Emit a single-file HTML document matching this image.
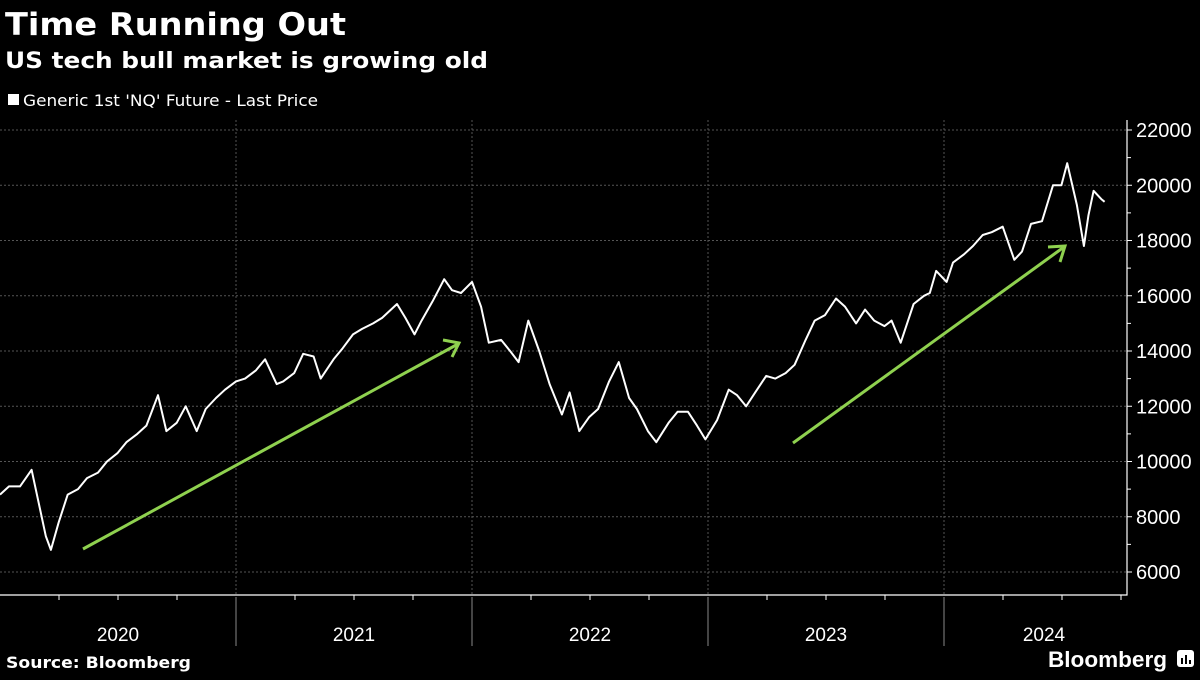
<!DOCTYPE html>
<html><head><meta charset="utf-8"><style>
body{margin:0;background:#000;width:1200px;height:675px;overflow:hidden;font-family:"Liberation Sans",sans-serif;color:#fff}
</style></head><body>
<svg width="1200" height="675" viewBox="0 0 1200 675" xmlns="http://www.w3.org/2000/svg">
<text x="5" y="35" font-size="31" font-weight="bold" fill="#fff" font-family="DejaVu Sans, sans-serif" textLength="341" lengthAdjust="spacingAndGlyphs">Time Running Out</text>
<text x="5" y="68" font-size="22" font-weight="bold" fill="#fff" font-family="DejaVu Sans, sans-serif" textLength="483" lengthAdjust="spacingAndGlyphs">US tech bull market is growing old</text>
<g>
<rect x="8" y="94" width="11" height="11" fill="#fff"/>
<text x="23" y="106" font-size="16" fill="#fff" font-family="DejaVu Sans, sans-serif" textLength="295" lengthAdjust="spacingAndGlyphs">Generic 1st 'NQ' Future - Last Price</text>
</g>
<g id="grid"></g>
<g id="axes"></g>
<path id="series" fill="none" stroke="#fff" stroke-width="2" stroke-linejoin="round"/>
<g>
<line x1="83" y1="549" x2="458" y2="344" stroke="#8fd14f" stroke-width="3"/>
<polyline points="443,340 459,343 452,357" fill="none" stroke="#8fd14f" stroke-width="3"/>
</g>
<g>
<line x1="793" y1="443" x2="1064" y2="247" stroke="#8fd14f" stroke-width="3"/>
<polyline points="1048,247 1065,246 1060,262" fill="none" stroke="#8fd14f" stroke-width="3"/>
</g>
<text x="6" y="668" font-size="16" font-weight="bold" fill="#fff" font-family="DejaVu Sans, sans-serif" textLength="185" lengthAdjust="spacingAndGlyphs">Source: Bloomberg</text>
<text x="1048" y="667" font-size="22" font-weight="bold" fill="#fff" font-family="Liberation Sans, sans-serif" textLength="119" lengthAdjust="spacingAndGlyphs">Bloomberg</text>
<g>
<rect x="1177" y="650" width="17" height="17" rx="3" fill="#fff"/>
<rect x="1181" y="658" width="2" height="6" fill="#000"/><rect x="1185" y="655" width="2" height="9" fill="#000"/><rect x="1189" y="660" width="2" height="4" fill="#000"/>
</g>
</svg>
<script>
const yTicks=[6000,8000,10000,12000,14000,16000,18000,20000,22000];
const years=[2020,2021,2022,2023,2024];
const dates=[
"2020-01-01","2020-01-15","2020-02-01","2020-02-19","2020-03-01","2020-03-12","2020-03-20","2020-04-01","2020-04-15","2020-05-01","2020-05-15","2020-06-01","2020-06-15","2020-07-01","2020-07-15","2020-08-01","2020-08-15","2020-09-02","2020-09-15","2020-10-01","2020-10-15","2020-11-01","2020-11-15","2020-12-01","2020-12-15",
"2021-01-01","2021-01-15","2021-02-01","2021-02-15","2021-03-05","2021-03-15","2021-04-01","2021-04-15","2021-05-01","2021-05-12","2021-06-01","2021-06-15","2021-07-01","2021-07-15","2021-08-01","2021-08-15","2021-09-07","2021-09-20","2021-10-04","2021-10-15","2021-11-01","2021-11-19","2021-12-01","2021-12-15",
"2022-01-01","2022-01-15","2022-01-27","2022-02-15","2022-03-01","2022-03-14","2022-03-29","2022-04-15","2022-05-01","2022-05-20","2022-06-01","2022-06-16","2022-07-01","2022-07-15","2022-08-01","2022-08-16","2022-09-01","2022-09-13","2022-09-30","2022-10-13","2022-11-01","2022-11-15","2022-12-01","2022-12-15","2022-12-28",
"2023-01-15","2023-02-02","2023-02-15","2023-03-01","2023-03-15","2023-04-01","2023-04-15","2023-05-01","2023-05-15","2023-06-01","2023-06-15","2023-07-01","2023-07-18","2023-08-01","2023-08-18","2023-09-01","2023-09-15","2023-10-01","2023-10-12","2023-10-26","2023-11-15","2023-12-01","2023-12-10","2023-12-20",
"2024-01-05","2024-01-15","2024-02-01","2024-02-15","2024-03-01","2024-03-15","2024-04-01","2024-04-19","2024-05-01","2024-05-15","2024-06-01","2024-06-18","2024-07-01","2024-07-10","2024-07-25","2024-08-05","2024-08-12","2024-08-20","2024-09-01","2024-09-06"];
const prices=[
8800,9100,9100,9700,8500,7300,6800,7800,8800,9000,9400,9600,10000,10300,10700,11000,11300,12400,11100,11400,12000,11100,11900,12300,12600,
12900,13000,13300,13700,12800,12900,13200,13900,13800,13000,13700,14100,14600,14800,15000,15200,15700,15200,14600,15100,15800,16600,16200,16100,
16500,15600,14300,14400,14000,13600,15100,14000,12800,11700,12500,11100,11600,11900,12900,13600,12300,11900,11100,10700,11400,11800,11800,11300,10800,
11500,12600,12400,12000,12500,13100,13000,13200,13500,14400,15100,15300,15900,15600,15000,15500,15100,14900,15100,14300,15700,16000,16100,16900,
16500,17200,17500,17800,18200,18300,18500,17300,17600,18600,18700,20000,20000,20800,19300,17800,18900,19800,19500,19400];

const X0=0, YEARPX=236;
function xOf(d){const t=new Date(d+"T00:00:00Z");const y=t.getUTCFullYear();const s=Date.UTC(y,0,1),e=Date.UTC(y+1,0,1);return X0+(y-2020+(t-s)/(e-s))*YEARPX;}
function yOf(v){return 130+(22000-v)*(442/16000);}
const NS="http://www.w3.org/2000/svg";
const grid=document.getElementById('grid'), axes=document.getElementById('axes');
function mk(tag,attrs,parent){const e=document.createElementNS(NS,tag);for(const k in attrs)e.setAttribute(k,attrs[k]);parent.appendChild(e);return e;}
yTicks.forEach(v=>{
 const y=yOf(v);
 const g=mk('line',{x1:0,x2:1127,y1:y,y2:y,stroke:'#555','stroke-dasharray':'2,2','stroke-width':1},grid);
 
 
 mk('line',{x1:1127,x2:1132,y1:y,y2:y,stroke:'#fff'},axes);
 if(v<22000){const ym=yOf(v+1000);mk('line',{x1:1127,x2:1131,y1:ym,y2:ym,stroke:'#fff'},axes);}
 const t=mk('text',{x:1136,y:y+7,'font-size':20,fill:'#fff','font-family':'Liberation Sans, sans-serif'},axes);
 t.textContent=v;
 
 
});
years.forEach(yr=>{
 const xs=xOf(yr+"-01-01"), xe=xOf((yr+1)+"-01-01");
 if(yr>2020){
  const g=mk('line',{x1:xs,x2:xs,y1:120,y2:595,stroke:'#555','stroke-dasharray':'2,2'},grid);
  
  
  mk('line',{x1:xs,x2:xs,y1:597,y2:646,stroke:'#888'},axes);
 }
 for(let q=1;q<4;q++){const xq=xs+(xe-xs)*q/4;if(xq<1127)mk('line',{x1:xq,x2:xq,y1:595,y2:600,stroke:'#fff'},axes);}
 const cx=(xs+Math.min(xe,1127))/2;
 const t=mk('text',{x:yr==2024?1044:cx,y:641,'font-size':19,fill:'#fff','text-anchor':'middle','font-family':'Liberation Sans, sans-serif'},axes);
 t.textContent=yr;
 
 
});
mk('line',{x1:0,x2:1127.5,y1:595,y2:595,stroke:'#fff','stroke-width':1.2},axes);
mk('line',{x1:1127,x2:1127,y1:120,y2:595.5,stroke:'#fff','stroke-width':1.2},axes);
let d="";
dates.forEach((dt,i)=>{d+=(i?"L":"M")+xOf(dt).toFixed(1)+","+yOf(prices[i]).toFixed(1);});
document.getElementById('series').setAttribute('d',d);
</script>
</body></html>
